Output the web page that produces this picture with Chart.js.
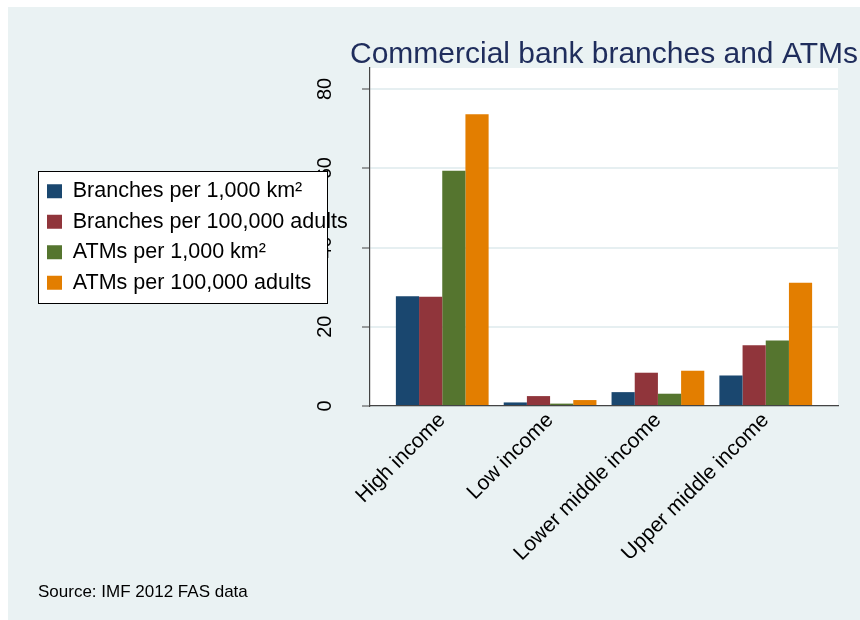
<!DOCTYPE html>
<html lang="en">
<head>
<meta charset="utf-8">
<title>Commercial bank branches and ATMs</title>
<script src="https://cdn.jsdelivr.net/npm/chart.js@4/dist/chart.umd.min.js"></script>
<style>
  html, body { margin: 0; padding: 0; background: #ffffff; }
  #chart { display: block; }
</style>
</head>
<body>
<canvas id="chart" width="860" height="620"></canvas>
<script>
// Income groups on the x axis
const categories = ['High income', 'Low income', 'Lower middle income', 'Upper middle income'];

// Series
const branchesPerArea = [27.7, 0.9, 3.5, 7.7];
const branchesPerAdults = [27.6, 2.5, 8.4, 15.3];
const atmsPerArea = [59.4, 0.6, 3.1, 16.5];
const atmsPerAdults = [73.6, 1.5, 8.9, 31.1];

const seriesLabels = [
  'Branches per 1,000 km²',
  'Branches per 100,000 adults',
  'ATMs per 1,000 km²',
  'ATMs per 100,000 adults',
];

// y axis tick labels
const yTicks = [0, 20, 40, 60, 80];

// Stata s2color palette
const seriesColors = ['#1a476f', '#90353b', '#55752f', '#e37e00'];

// Layout numbers (pixels)
const PAD = { top: 38, left: 38, right: 22, bottom: 19 };
const PLOT_LEFT = 370;
const PLOT_BOTTOM = 406;
const SOURCE_HEIGHT = 17;
const LEGEND_FRAME_WIDTH = 289;

Chart.defaults.font.family = '"Liberation Sans", Arial, sans-serif';
Chart.defaults.color = '#000000';

/**
 * Category index -> {x, y} points for the linear x axis
 */
function toPoints(values) {
  return values.map((v, i) => ({ x: i, y: v }));
}

/**
 * White framed box behind the legend entries
 */
function drawLegendFrame(legend) {
  const boxes = legend.legendHitBoxes;
  if (!boxes || !boxes.length) return;
  const ctx = legend.ctx;
  const first = boxes[0];
  const last = boxes[boxes.length - 1];
  const x = Math.round(first.left - 9) + 0.5;
  const y = Math.round(first.top - 10) + 0.5;
  const h = Math.round(last.top + last.height - first.top + 19);
  ctx.save();
  ctx.fillStyle = '#ffffff';
  ctx.fillRect(x, y, LEGEND_FRAME_WIDTH, h);
  ctx.strokeStyle = '#000000';
  ctx.lineWidth = 1;
  ctx.strokeRect(x, y, LEGEND_FRAME_WIDTH, h);
  ctx.restore();
}

const backdropPlugin = {
  id: 'backdrop',
  beforeDraw(chart) {
    const { ctx, chartArea } = chart;
    ctx.save();
    ctx.fillStyle = '#ffffff';
    ctx.fillRect(0, 0, chart.width, chart.height);
    ctx.fillStyle = '#eaf2f3';
    ctx.fillRect(8, 7, chart.width - 8, chart.height - 7);
    ctx.fillStyle = '#ffffff';
    ctx.fillRect(chartArea.left, chartArea.top, chartArea.right - chartArea.left, chartArea.bottom - chartArea.top);
    ctx.restore();
  },
  afterLayout(chart) {
    // title is centred on the plot but wider than it: do not squeeze it
    const title = chart.titleBlock;
    if (title) {
      title.left = chart.chartArea.left - 80;
      title.right = chart.chartArea.right + 80;
      title.width = title.right - title.left;
    }
    // legend gets a frame, and its text may run past the layout box
    const legend = chart.legend;
    if (legend && !legend._framed) {
      const drawLegend = legend.draw.bind(legend);
      legend.draw = function () {
        drawLegendFrame(this);
        const { right, width } = this;
        this.right = this.left + 400;
        this.width = 400;
        drawLegend();
        this.right = right;
        this.width = width;
      };
      legend._framed = true;
    }
  },
};

const datasets = [branchesPerArea, branchesPerAdults, atmsPerArea, atmsPerAdults].map((values, i) => ({
  label: seriesLabels[i],
  data: toPoints(values),
  backgroundColor: seriesColors[i],
  borderWidth: 0,
  categoryPercentage: 0.86,
  barPercentage: 1,
}));

new Chart(document.getElementById('chart'), {
  type: 'bar',
  data: { datasets },
  plugins: [backdropPlugin],
  options: {
    responsive: false,
    animation: false,
    devicePixelRatio: 1,
    layout: { padding: PAD },
    scales: {
      x: {
        type: 'linear',
        offset: false,
        min: -0.67,
        max: 3.67,
        afterBuildTicks: (scale) => {
          scale.ticks = categories.map((_, i) => ({ value: i }));
        },
        afterFit: (scale) => {
          scale.height = scale.chart.height - PLOT_BOTTOM - PAD.bottom - SOURCE_HEIGHT;
        },
        grid: { display: false, drawTicks: false, offset: false },
        border: { color: '#444444', width: 1.3 },
        ticks: {
          autoSkip: false,
          minRotation: 45,
          maxRotation: 45,
          padding: 2,
          color: '#000000',
          font: { size: 21 },
          callback: (value) => categories[Math.round(value)],
        },
      },
      y: {
        min: 0,
        max: 85.3,
        afterBuildTicks: (scale) => {
          scale.ticks = yTicks.map((v) => ({ value: v }));
        },
        afterFit: (scale) => {
          const legendWidth = scale.chart.legend ? scale.chart.legend.width : 0;
          scale.width = Math.max(0, PLOT_LEFT - PAD.left - legendWidth);
        },
        grid: { color: '#e6eff1', lineWidth: 2, tickColor: '#444444', tickLength: 8, tickWidth: 1 },
        border: { color: '#444444', width: 1.2 },
        ticks: {
          z: -1,
          minRotation: 90,
          maxRotation: 90,
          crossAlign: 'center',
          padding: 25,
          color: '#000000',
          font: { size: 20 },
        },
      },
    },
    plugins: {
      title: {
        display: true,
        text: 'Commercial bank branches and ATMs',
        fullSize: false,
        color: '#1f2d5c',
        font: { size: 30, weight: 'normal', lineHeight: 1 },
        padding: { top: 2, bottom: -2 },
      },
      subtitle: {
        display: true,
        text: 'Source: IMF 2012 FAS data',
        position: 'bottom',
        align: 'start',
        color: '#000000',
        font: { size: 17, lineHeight: 1 },
        padding: 0,
      },
      legend: {
        position: 'left',
        align: 'center',
        fullSize: false,
        labels: {
          boxWidth: 15,
          boxHeight: 14,
          padding: 9,
          color: '#000000',
          font: { size: 21.5 },
        },
      },
      tooltip: { enabled: false },
    },
  },
});
</script>
</body>
</html>
